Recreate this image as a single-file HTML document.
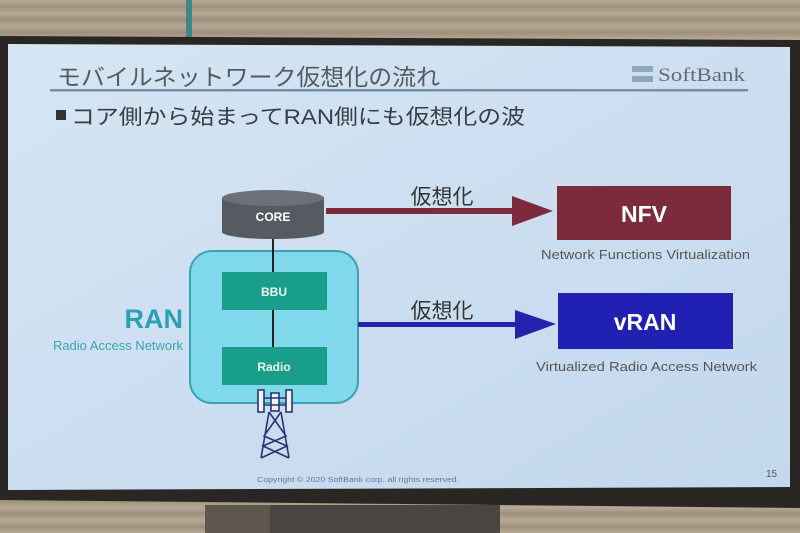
<!DOCTYPE html>
<html><head><meta charset="utf-8"><style>
html,body{margin:0;padding:0;width:800px;height:533px;overflow:hidden;background:#a99c88}
svg{display:block}
text{font-family:"Liberation Sans","Noto Sans CJK JP",sans-serif}
</style></head><body>
<svg width="800" height="533" viewBox="0 0 800 533">
<defs>
<linearGradient id="bl" x1="0" y1="0" x2="0" y2="1">
<stop offset="0" stop-color="#b7ab97"/><stop offset="0.5" stop-color="#9d907c"/><stop offset="1" stop-color="#b5a994"/>
</linearGradient>
<pattern id="blinds" width="10" height="13" patternUnits="userSpaceOnUse"><rect width="10" height="13" fill="url(#bl)"/></pattern>
<linearGradient id="scr" x1="0" y1="0" x2="1" y2="1">
<stop offset="0" stop-color="#d5e6f3"/><stop offset="1" stop-color="#c3d7ee"/>
</linearGradient>
</defs>
<rect width="800" height="533" fill="url(#blinds)"/>
<rect x="186" y="0" width="6" height="38" fill="#3c8a86"/>
<polygon points="0,36 800,40 800,508 0,500" fill="#2a2624"/>
<polygon points="8,44 790,47 790,487 8,490" fill="url(#scr)"/>
<rect x="205" y="505" width="90" height="28" fill="#5e574e"/>
<rect x="270" y="505" width="230" height="28" fill="#4a4540"/>
<text x="57" y="85" font-size="23" fill="#555a60" textLength="383" lengthAdjust="spacingAndGlyphs">モバイルネットワーク仮想化の流れ</text>
<rect x="50" y="89" width="698" height="2.5" fill="#7590a6"/>
<rect x="632" y="66" width="21" height="6" fill="#8fa7ba"/>
<rect x="632" y="76" width="21" height="6" fill="#8fa7ba"/>
<text x="658" y="81" font-size="19" fill="#666c72" style="font-family:'Liberation Serif',serif" textLength="87" lengthAdjust="spacingAndGlyphs">SoftBank</text>
<rect x="56" y="110" width="10" height="10" fill="#333"/>
<text x="71" y="124" font-size="21" fill="#3a3e44" textLength="454" lengthAdjust="spacingAndGlyphs">コア側から始まってRAN側にも仮想化の波</text>
<rect x="190" y="251" width="168" height="152" rx="22" fill="#80d9ea" stroke="#3aa3b0" stroke-width="2"/>
<line x1="273" y1="230" x2="273" y2="350" stroke="#222" stroke-width="2"/>
<path d="M222,198 L222,232 A51,7 0 0 0 324,232 L324,198 Z" fill="#555b60"/>
<ellipse cx="273" cy="198" rx="51" ry="8" fill="#6b7176"/>
<text x="273" y="221" font-size="12" font-weight="bold" fill="#fff" text-anchor="middle">CORE</text>
<rect x="222" y="272" width="105" height="38" fill="#1a9e8c"/>
<text x="274" y="296" font-size="12" font-weight="bold" fill="#eaf8f4" text-anchor="middle">BBU</text>
<rect x="222" y="347" width="105" height="38" fill="#1a9e8c"/>
<text x="274" y="371" font-size="12" font-weight="bold" fill="#eaf8f4" text-anchor="middle">Radio</text>
<g stroke="#2a3570" stroke-width="1.6" fill="#eef4fa">
<rect x="258" y="390" width="6" height="22"/><rect x="286" y="390" width="6" height="22"/><rect x="271" y="393" width="8" height="18"/>
<line x1="264" y1="398" x2="286" y2="398"/><line x1="264" y1="405" x2="286" y2="405"/>
<polyline fill="none" points="269,412 261,458"/><polyline fill="none" points="281,412 289,458"/>
<polyline fill="none" points="269,412 286,436 263,446 289,458"/>
<polyline fill="none" points="281,412 264,436 287,446 261,458"/>
</g>
<text x="183" y="328" font-size="27" font-weight="bold" fill="#2aa0b4" text-anchor="end">RAN</text>
<text x="183" y="350" font-size="13" fill="#3aa3b8" text-anchor="end">Radio Access Network</text>
<rect x="326" y="208" width="190" height="6" fill="#7d2a3c"/>
<polygon points="512,196 553,211 512,226" fill="#7d2a3c"/>
<text x="442" y="204" font-size="21" fill="#333" text-anchor="middle">仮想化</text>
<rect x="358" y="322" width="160" height="5" fill="#2323b0"/>
<polygon points="515,310 556,324 515,339" fill="#2323b0"/>
<text x="442" y="318" font-size="21" fill="#333" text-anchor="middle">仮想化</text>
<rect x="557" y="186" width="174" height="54" fill="#7b2b3b"/>
<text x="644" y="222" font-size="23" font-weight="bold" fill="#fff" text-anchor="middle">NFV</text>
<text x="541" y="259" font-size="13" fill="#555" textLength="209" lengthAdjust="spacingAndGlyphs">Network Functions Virtualization</text>
<rect x="558" y="293" width="175" height="56" fill="#2020b2"/>
<text x="645" y="330" font-size="23" font-weight="bold" fill="#fff" text-anchor="middle">vRAN</text>
<text x="536" y="371" font-size="13" fill="#555" textLength="221" lengthAdjust="spacingAndGlyphs">Virtualized Radio Access Network</text>
<text x="257" y="482" font-size="7.5" fill="#6a7890" textLength="202" lengthAdjust="spacingAndGlyphs">Copyright © 2020 SoftBank corp. all rights reserved.</text>
<text x="766" y="477" font-size="10" fill="#555">15</text>
</svg>
</body></html>
